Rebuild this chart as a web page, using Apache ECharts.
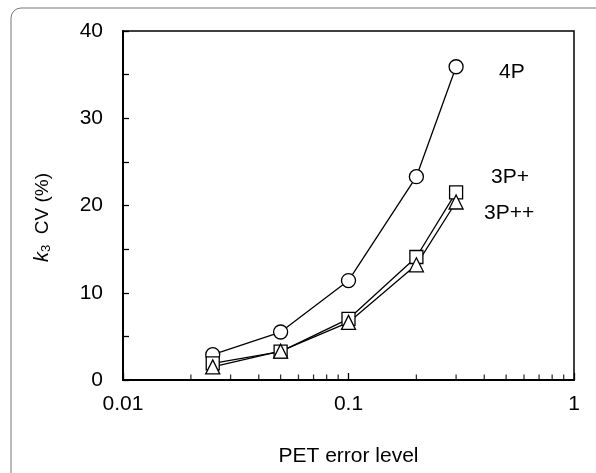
<!DOCTYPE html>
<html>
<head>
<meta charset="utf-8">
<script src="https://cdn.jsdelivr.net/npm/echarts@6/dist/echarts.min.js"></script>
<style>html,body{margin:0;padding:0;background:#fff}#c{width:596px;height:473px}</style>
</head>
<body>
<div id="c"></div>
<script>
const errorLevels = [0.025, 0.05, 0.1, 0.2, 0.3];
const cv4P = [2.9, 5.5, 11.4, 23.3, 35.9];
const cv3Pplus = [1.9, 3.25, 7.0, 14.1, 21.5];
const cv3Pplusplus = [1.5, 3.3, 6.6, 13.2, 20.4];
const minorTickPositions = [0.02,0.03,0.04,0.05,0.06,0.07,0.08,0.09,0.2,0.3,0.4,0.5,0.6,0.7,0.8,0.9];
const xTickLabels = {0.01:'0.01', 0.1:'0.1', 1:'1'};

const FONT = 'Liberation Sans, Arial, sans-serif';
const FS = 21;
const chart = echarts.init(document.getElementById('c'));

function mk(name, vals, symbol, size, off) {
  return {
    name: name, type: 'line', data: errorLevels.map((x,i)=>[x, vals[i]]),
    symbol: symbol, symbolSize: size, showSymbol: true,
    lineStyle: {color:'#000', width:1.3},
    itemStyle: {color:'#fff', borderColor:'#000', borderWidth:1.3},
    endLabel: {show:true, formatter:'{a}', distance:0, offset:off, color:'#000', fontSize:FS, fontFamily:FONT, align:'left'},
    z: 3, animation:false
  };
}

chart.setOption({
  animation: false,
  graphic: [{
    type:'rect', shape:{x:11, y:8, width:640, height:520, r:[10,0,0,0]},
    style:{fill:'none', stroke:'#777', lineWidth:1}
  }],
  grid: {left:123, top:31, right:22, bottom:93, outerBoundsMode:'none', containLabel:false, show:true, borderColor:'#000', borderWidth:1.5, backgroundColor:'transparent'},
  xAxis: {
    type:'log', logBase:10, min:0.01, max:1,
    name:'PET error level', nameLocation:'middle', nameGap:66,
    nameTextStyle:{fontSize:FS, fontFamily:FONT, color:'#000'},
    axisLine:{lineStyle:{color:'#000', width:2}},
    axisTick:{inside:true, length:7, lineStyle:{color:'#000', width:1.3}},
    axisLabel:{fontSize:FS, fontFamily:FONT, color:'#000', margin:14, formatter:v=>xTickLabels[v] !== undefined ? xTickLabels[v] : String(v)},
    splitLine:{show:false}
  },
  yAxis: {
    type:'value', min:0, max:40, interval:10,
    name:'{k|k}{s|3}  CV (%)', nameLocation:'middle', nameGap:70, nameRotate:90,
    nameTextStyle:{fontSize:19, fontFamily:FONT, color:'#000', padding:[0,24,0,0],
      rich:{k:{fontStyle:'italic', fontSize:20, fontFamily:FONT, color:'#000'}, s:{fontSize:13, fontFamily:FONT, color:'#000', verticalAlign:'bottom', padding:[8,0,0,0]}}},
    axisLine:{show:true, lineStyle:{color:'#000', width:2}},
    axisTick:{inside:true, length:6, lineStyle:{color:'#000', width:1.3}},
    minorTick:{show:true, splitNumber:2, length:6, lineStyle:{color:'#000', width:1.3}},
    axisLabel:{fontSize:FS, fontFamily:FONT, color:'#000', margin:20},
    splitLine:{show:false}
  },
  series: [
    mk('4P', cv4P, 'circle', 14, [43, 5]),
    mk('3P+', cv3Pplus, 'rect', 13, [35, -15]),
    mk('3P++', cv3Pplusplus, 'triangle', 14, [28, 11]),
    {
      type:'scatter', data: minorTickPositions.map(x=>[x,0]),
      symbol:'rect', symbolSize:[1.3,5], symbolOffset:[0,-3],
      itemStyle:{color:'#000'}, silent:true, z:2, animation:false
    }
  ]
});
</script>
</body>
</html>
